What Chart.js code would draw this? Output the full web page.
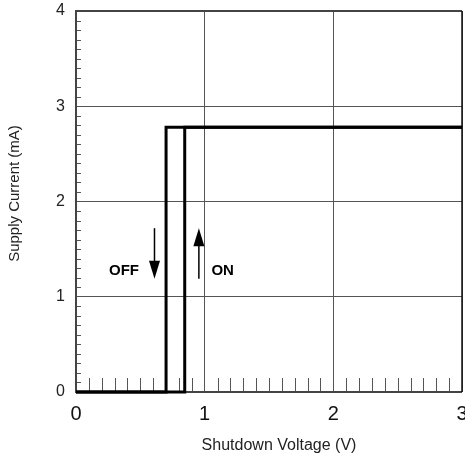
<!DOCTYPE html>
<html>
<head>
<meta charset="utf-8">
<script src="https://cdn.jsdelivr.net/npm/chart.js@4"></script>
<style>
  html, body { margin: 0; padding: 0; background: #fff; }
  #wrap { width: 465px; height: 458px; position: relative; }
</style>
</head>
<body>
<div id="wrap"><canvas id="myChart"></canvas></div>
<script>
// curve corners (V, mA)
const offX = [0, 0.70, 0.70, 3];
const offY = [0, 0, 2.78, 2.78];
const onX = [0, 0.845, 0.845, 3];
const onY = [0, 0, 2.78, 2.78];

const xTicks = [0, 1, 2, 3];
const yTicks = [0, 1, 2, 3, 4];

// arrows: x, from y, to y
const offArrow = [0.61, 1.72, 1.19];
const onArrow = [0.955, 1.19, 1.72];
// labels: text, x, y
const offLabel = ['OFF', 0.373, 1.27];
const onLabel = ['ON', 1.14, 1.27];

const xTitle = 'Shutdown Voltage (V)';
const yTitle = 'Supply Current (mA)';

const toPoints = (xs, ys) => xs.map((x, i) => ({ x: x, y: ys[i] }));

const ctx = document.getElementById('myChart').getContext('2d');

const decorPlugin = {
    id: 'decorPlugin',
    beforeDatasetsDraw: function(chart) {
        const c = chart.ctx;
        const a = chart.chartArea;
        const xs = chart.scales.x;
        const ys = chart.scales.y;
        c.save();
        c.strokeStyle = '#555';
        c.lineWidth = 1;
        // minor ticks along the bottom
        for (let i = 1; i < 30; i++) {
            if (i % 10 === 0) continue;
            const px = Math.round(xs.getPixelForValue(i / 10)) + 0.5;
            c.beginPath();
            c.moveTo(px, a.bottom);
            c.lineTo(px, a.bottom - 14);
            c.stroke();
        }
        // minor ticks along the left side
        for (let i = 1; i < 40; i++) {
            if (i % 10 === 0) continue;
            const py = Math.round(ys.getPixelForValue(i / 10)) + 0.5;
            c.beginPath();
            c.moveTo(a.left, py);
            c.lineTo(a.left + 5, py);
            c.stroke();
        }
        // frame
        c.lineWidth = 2;
        c.strokeStyle = '#444';
        c.beginPath();
        c.moveTo(a.right, a.top);
        c.lineTo(a.left, a.top);
        c.lineTo(a.left, a.bottom);
        c.lineTo(a.right, a.bottom);
        c.stroke();
        c.strokeStyle = '#111';
        c.lineWidth = 1.5;
        c.beginPath();
        c.moveTo(a.right, a.top);
        c.lineTo(a.right, a.bottom);
        c.stroke();
        c.restore();
    },
    afterDraw: function(chart) {
        const c = chart.ctx;
        const a = chart.chartArea;
        const xs = chart.scales.x;
        const ys = chart.scales.y;
        c.save();
        c.fillStyle = '#000';
        c.strokeStyle = '#000';
        c.lineWidth = 1.5;
        [offArrow, onArrow].forEach(function(ar) {
            const px = xs.getPixelForValue(ar[0]);
            const y0 = ys.getPixelForValue(ar[1]);
            const y1 = ys.getPixelForValue(ar[2]);
            const dir = y1 > y0 ? 1 : -1;
            c.beginPath();
            c.moveTo(px, y0);
            c.lineTo(px, y1 - dir * 14);
            c.stroke();
            c.beginPath();
            c.moveTo(px, y1);
            c.lineTo(px - 5.5, y1 - dir * 18);
            c.lineTo(px + 5.5, y1 - dir * 18);
            c.closePath();
            c.fill();
        });
        c.font = 'bold 15px "Liberation Sans", Arial, sans-serif';
        c.textAlign = 'center';
        c.textBaseline = 'middle';
        [offLabel, onLabel].forEach(function(lb) {
            c.fillText(lb[0], xs.getPixelForValue(lb[1]), ys.getPixelForValue(lb[2]));
        });
        // axis titles
        c.fillStyle = '#222';
        c.font = '16px "Liberation Sans", Arial, sans-serif';
        c.fillText(xTitle, (a.left + a.right) / 2 + 10, 446);
        c.font = '15px "Liberation Sans", Arial, sans-serif';
        c.translate(15, (a.top + a.bottom) / 2 - 8);
        c.rotate(-Math.PI / 2);
        c.fillText(yTitle, 0, 0);
        c.restore();
    }
};

const config = {
    type: 'line',
    data: {
        datasets: [
            { label: 'OFF', data: toPoints(offX, offY) },
            { label: 'ON', data: toPoints(onX, onY) }
        ]
    },
    options: {
        responsive: true,
        maintainAspectRatio: false,
        animation: false,
        layout: { padding: { left: 0, top: 11, right: 3, bottom: 0 } },
        elements: {
            line: { borderColor: '#000', borderWidth: 3, tension: 0, fill: false },
            point: { radius: 0 }
        },
        datasets: { line: { clip: 4 } },
        plugins: {
            legend: { display: false },
            tooltip: { enabled: false }
        },
        scales: {
            x: {
                type: 'linear',
                min: 0,
                max: 3,
                afterBuildTicks: function(scale) {
                    scale.ticks = xTicks.map(v => ({ value: v }));
                },
                afterFit: function(scale) {
                    scale.height = 66;
                    scale.paddingLeft = 0;
                    scale.paddingRight = 0;
                },
                grid: { color: '#555', lineWidth: 1, drawTicks: false },
                border: { display: false },
                ticks: {
                    color: '#111',
                    padding: 10,
                    maxRotation: 0,
                    font: { size: 20, family: '"Liberation Sans", Arial, sans-serif' }
                }
            },
            y: {
                type: 'linear',
                min: 0,
                max: 4,
                afterBuildTicks: function(scale) {
                    scale.ticks = yTicks.map(v => ({ value: v }));
                },
                afterFit: function(scale) {
                    scale.width = 76;
                    scale.paddingTop = 0;
                    scale.paddingBottom = 0;
                },
                grid: { color: '#555', lineWidth: 1, drawTicks: false },
                border: { display: false },
                ticks: {
                    color: '#222',
                    padding: 11,
                    font: { size: 16, family: '"Liberation Sans", Arial, sans-serif' }
                }
            }
        }
    },
    plugins: [decorPlugin]
};

const myChart = new Chart(ctx, config);
</script>
</body>
</html>
